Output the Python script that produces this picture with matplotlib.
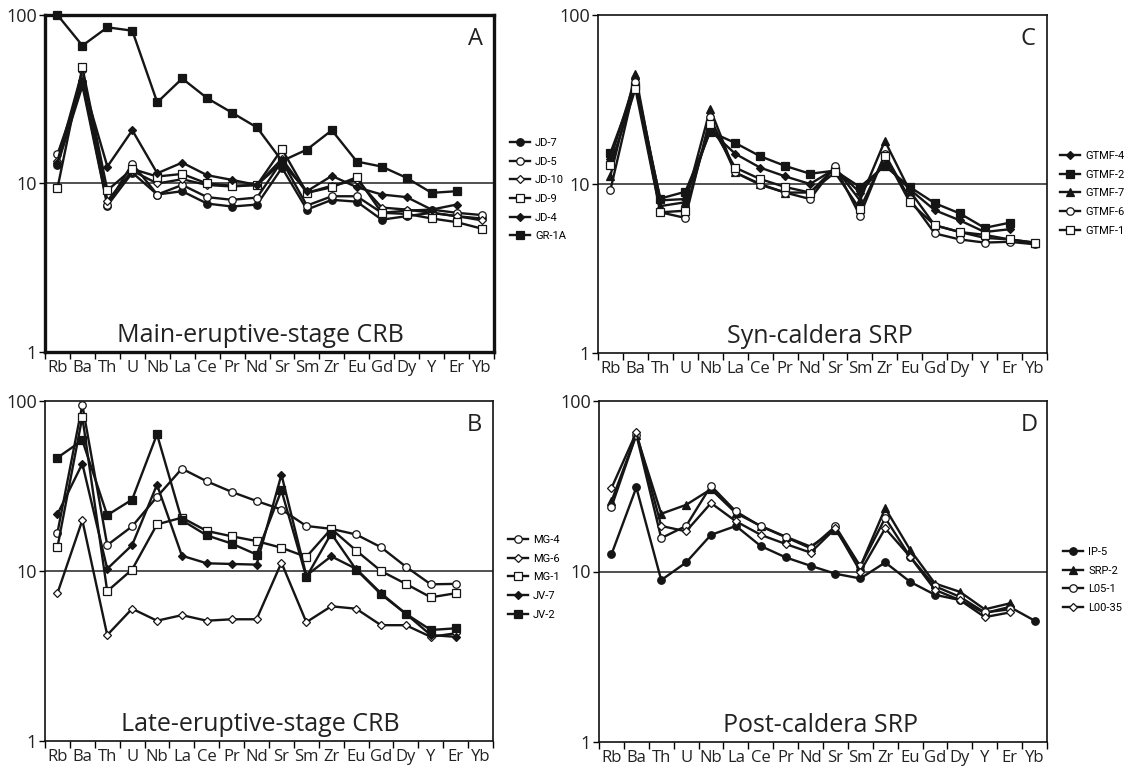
import numpy as np
import matplotlib
matplotlib.use("Agg")
import matplotlib.pyplot as plt
from matplotlib.lines import Line2D

elements = ["Rb", "Ba", "Th", "U", "Nb", "La", "Ce", "Pr", "Nd", "Sr", "Sm", "Zr",
            "Eu", "Gd", "Dy", "Y", "Er", "Yb"]
nan = np.nan

# ---------------- Panel A: Main-eruptive-stage CRB ----------------
a_names = ["JD-7", "JD-5", "JD-10", "JD-9", "JD-4", "GR-1A"]
jd7 = [12.9, 38.0, 7.4, 11.6, 8.6, 9.0, 7.6, 7.3, 7.5, 12.4, 7.0, 8.0, 7.8, 6.1, 6.4, 6.7, 6.4, 6.2]
jd5 = [14.9, 40.0, 7.5, 13.1, 8.6, 9.8, 8.3, 8.0, 8.25, 13.6, 7.4, 8.4, 8.4, 6.7, 6.9, 7.0, 6.7, 6.5]
jd10 = [13.6, 46.7, 7.9, 11.9, 10.0, 10.6, 9.8, 9.6, 9.8, 14.0, 8.8, 9.7, 10.5, 7.2, 7.0, 6.7, 6.4, 6.05]
jd9 = [9.4, 48.9, 9.1, 12.2, 11.0, 11.4, 10.0, 9.7, 9.8, 16.0, 8.8, 9.5, 10.9, 6.7, 6.6, 6.2, 5.9, 5.4]
jd4 = [13.3, 40.7, 12.6, 20.7, 11.5, 13.3, 11.2, 10.5, 9.8, 13.3, 9.0, 11.1, 9.5, 8.6, 8.3, 7.0, 7.5, nan]
gr1a = [100.0, 65.8, 84.5, 80.7, 30.3, 42.0, 32.1, 26.3, 21.5, 13.6, 15.9, 20.7, 13.5, 12.6, 10.8, 8.8, 9.0, nan]
a_kinds = ["fc", "oc", "od", "os", "fd", "fs"]

# ---------------- Panel B: Late-eruptive-stage CRB ----------------
b_names = ["MG-4", "MG-6", "MG-1", "JV-7", "JV-2"]
mg4 = [16.8, 95.0, 14.2, 18.3, 27.3, 40.0, 33.7, 29.2, 25.8, 23.0, 18.4, 17.7, 16.4, 13.8, 10.6, 8.35, 8.4, nan]
mg6 = [7.4, 19.9, 4.2, 6.0, 5.1, 5.5, 5.1, 5.2, 5.2, 11.2, 5.0, 6.2, 6.0, 4.8, 4.8, 4.1, 4.3, nan]
mg1 = [13.8, 80.5, 7.6, 10.2, 18.8, 20.6, 17.2, 16.0, 15.0, 13.7, 12.1, 17.7, 13.2, 10.0, 8.4, 7.0, 7.4, nan]
jv7 = [21.6, 42.8, 10.3, 14.2, 32.2, 12.3, 11.1, 11.0, 10.9, 36.9, 9.4, 12.2, 10.3, 7.4, 5.6, 4.2, 4.1, nan]
jv2 = [46.4, 58.7, 21.3, 26.3, 63.7, 19.9, 16.2, 14.5, 12.5, 29.8, 9.2, 16.6, 10.2, 7.3, 5.6, 4.5, 4.6, nan]
b_kinds = ["oc", "od", "os", "fd", "fs"]

# ---------------- Panel C: Syn-caldera SRP ----------------
c_names = ["GTMF-4", "GTMF-2", "GTMF-7", "GTMF-6", "GTMF-1"]
gtmf4 = [14.1, 41.8, 8.0, 8.15, 20.7, 15.1, 12.5, 11.1, 10.0, 12.3, 8.9, 13.1, 9.3, 7.0, 6.1, 5.2, 5.4, nan]
gtmf2 = [15.3, 38.2, 8.2, 9.0, 20.4, 17.5, 14.6, 12.8, 11.5, 12.0, 9.6, 12.8, 9.6, 7.7, 6.7, 5.5, 5.9, nan]
gtmf7 = [11.2, 44.8, 7.4, 7.8, 27.8, 11.7, 10.0, 8.9, 8.9, 12.5, 8.0, 18.0, 9.1, 5.7, 5.2, 4.8, 4.7, 4.5]
gtmf6 = [9.25, 40.0, 6.8, 6.3, 24.8, 11.7, 9.9, 8.9, 8.15, 12.7, 6.5, 15.0, 8.15, 5.1, 4.7, 4.5, 4.55, 4.4]
gtmf1 = [12.9, 36.5, 6.8, 6.95, 22.6, 12.5, 10.7, 9.6, 8.9, 11.7, 7.1, 14.7, 7.8, 5.7, 5.2, 5.0, 4.7, 4.5]
c_kinds = ["fd", "fs", "ft", "oc", "os"]

# ---------------- Panel D: Post-caldera SRP ----------------
d_names = ["IP-5", "SRP-2", "L05-1", "L00-35"]
ip5 = [12.6, 31.1, 8.9, 11.3, 16.4, 18.5, 14.1, 12.1, 10.8, 9.7, 9.1, 11.3, 8.7, 7.3, 6.8, 5.7, 6.2, 5.15]
srp2 = [25.8, 63.4, 21.8, 24.6, 30.4, 22.0, 18.5, 16.0, 14.0, 17.6, 10.7, 23.5, 13.4, 8.5, 7.6, 6.0, 6.5, nan]
l051 = [23.9, 63.4, 15.7, 18.5, 31.8, 22.5, 18.4, 15.9, 13.7, 18.4, 10.7, 20.6, 12.2, 8.2, 7.1, 5.75, 6.0, nan]
l0035 = [30.8, 65.5, 18.5, 17.2, 25.2, 19.7, 16.4, 14.5, 12.9, 17.9, 10.0, 17.9, 12.2, 7.8, 6.8, 5.4, 5.75, nan]
d_kinds = ["fc", "ft", "oc", "od"]

panel_titles = ["Main-eruptive-stage CRB", "Late-eruptive-stage CRB",
                "Syn-caldera SRP", "Post-caldera SRP"]
panel_letters = ["A", "B", "C", "D"]

MAIN_FONT = ["Open Sans", "DejaVu Sans"]
LEG_FONT = ["Liberation Sans Narrow", "Roboto", "DejaVu Sans"]


def mstyle(kind):
    base = dict(color="#151515", lw=1.7, mew=0.9, mec="#151515")
    shapes = {"c": ("o", 5.4), "d": ("D", 3.8), "s": ("s", 5.6), "t": ("^", 5.8)}
    m, ms = shapes[kind[1]]
    if kind[0] == "o" and kind[1] == "d":
        ms = 4.0
    base.update(marker=m, ms=ms, mfc=("#151515" if kind[0] == "f" else "white"))
    return base


fig = plt.figure(figsize=(11.29, 7.70), dpi=100)
W, H = 1129.0, 770.0


def make_axes(l, r, t, b):
    return fig.add_axes([l / W, 1 - b / H, (r - l) / W, (b - t) / H])


axA = make_axes(45, 494, 15, 352)
axC = make_axes(598, 1047, 15, 353)
axB = make_axes(45, 493, 401, 741)
axD = make_axes(599, 1047, 401, 742)

panels = [
    (axA, a_names, [jd7, jd5, jd10, jd9, jd4, gr1a], a_kinds, 0, (1.036, 0.635), 2.4, 0.975),
    (axB, b_names, [mg4, mg6, mg1, jv7, jv2], b_kinds, 1, (1.033, 0.606), 1.2, 0.975),
    (axC, c_names, [gtmf4, gtmf2, gtmf7, gtmf6, gtmf1], c_kinds, 2, (1.029, 0.598), 1.2, 0.973),
    (axD, d_names, [ip5, srp2, l051, l0035], d_kinds, 3, (1.036, 0.572), 1.2, 0.98),
]

x = np.arange(len(elements))
for ax, names, series, kinds, idx, legpos, frame_lw, letx in panels:
    ax.set_yscale("log")
    ax.set_ylim(1, 100)
    ax.set_xlim(-0.5, len(elements) - 0.5)
    ax.axhline(10, color="#222222", lw=1.1, zorder=1)
    handles = []
    for name, vals, kind in zip(names, series, kinds):
        st = mstyle(kind)
        ax.plot(x, np.array(vals, dtype=float), zorder=3, clip_on=False, **st)
        handles.append(Line2D([], [], label=name, **st))
    # ticks
    ax.set_xticks(x)
    ax.set_xticklabels(elements, fontsize=12, family=MAIN_FONT, color="#222222")
    ax.set_xticks(np.arange(-0.5, len(elements), 1.0), minor=True)
    ax.tick_params(axis="x", which="major", length=0, pad=6)
    ax.tick_params(axis="x", which="minor", length=5, width=1.0, direction="out")
    ax.set_yticks([1, 10, 100])
    ax.set_yticklabels(["1", "10", "100"], fontsize=13, family=MAIN_FONT, color="#222222")
    ax.yaxis.set_minor_locator(matplotlib.ticker.NullLocator())
    ax.tick_params(axis="y", which="major", length=4, width=1.0, pad=2)
    for sp in ax.spines.values():
        sp.set_linewidth(frame_lw)
        sp.set_color("#111111")
    ax.text(0.48 if idx < 2 else 0.494, 0.03, panel_titles[idx], transform=ax.transAxes,
            ha="center", va="baseline", fontsize=18, family=MAIN_FONT, color="#222222")
    ax.text(letx, 0.965, panel_letters[idx], transform=ax.transAxes, ha="right",
            va="top", fontsize=17, family=MAIN_FONT, color="#222222")
    leg = ax.legend(handles=handles, loc="upper left", bbox_to_anchor=legpos,
                    frameon=False, borderpad=0, borderaxespad=0, handlelength=1.8,
                    handletextpad=0.45, labelspacing=0.78,
                    prop={"family": LEG_FONT, "size": 8})
    leg.set_clip_on(False)

fig.savefig("out.png", dpi=100)
